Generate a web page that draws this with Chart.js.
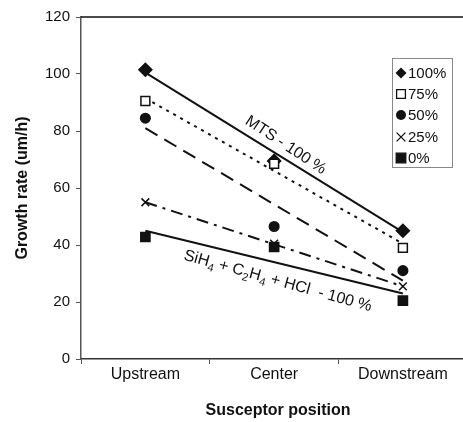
<!DOCTYPE html>
<html>
<head>
<meta charset="utf-8">
<script src="https://cdn.jsdelivr.net/npm/chart.js@4.4.1/dist/chart.umd.min.js"></script>
<style>
  html, body { margin: 0; padding: 0; background: #fff; overflow: hidden; }
  #wrap { width: 463px; height: 422px; overflow: hidden; }
  #myChart { display: block; }
</style>
</head>
<body>
<div id="wrap"><canvas id="myChart" width="483" height="422"></canvas></div>
<script>
const posiciones = ["Upstream", "Center", "Downstream"];
const series = ["100%", "75%", "50%", "25%", "0%"];

// puntos medidos
const g100 = [101.5, 69.5, 45];
const g75 = [90.5, 68.5, 39];
const g50 = [84.5, 46.5, 31];
const g25 = [55, 40.5, 25.5];
const g0 = [42.8, 39.3, 20.5];

// lineas de tendencia (valor en Upstream y en Downstream)
const t100 = [100.5, 44.5];
const t75 = [91.5, 40.5];
const t50 = [81, 27.5];
const t25 = [55, 25.5];
const t0 = [45, 23];

const yTicks = [0, 20, 40, 60, 80, 100, 120];

const FONT = "'Liberation Sans', Arial, sans-serif";

function tendencia(data, dash) {
  return {
    label: "trend",
    data: [{ x: 1, y: data[0] }, { x: 3, y: data[1] }],
    borderColor: "#111",
    borderWidth: 2,
    borderDash: dash,
    pointRadius: 0,
    fill: false,
    tension: 0,
    order: 10
  };
}

function puntos(label, data, style, radius, fillColor, ord) {
  return {
    label: label,
    data: data.map((v, i) => ({ x: i + 1, y: v })),
    showLine: false,
    pointStyle: style,
    pointRadius: radius,
    pointHoverRadius: radius,
    pointBackgroundColor: fillColor,
    pointBorderColor: "#111",
    pointBorderWidth: 1.5,
    order: ord
  };
}

function drawShape(ctx, style, r, x, y) {
  ctx.beginPath();
  if (style === "rectRot") {
    ctx.moveTo(x, y - r); ctx.lineTo(x + r, y); ctx.lineTo(x, y + r); ctx.lineTo(x - r, y); ctx.closePath();
    ctx.fill();
  } else if (style === "rect") {
    const s = r * 0.8;
    ctx.rect(x - s, y - s, 2 * s, 2 * s);
    ctx.fill();
    ctx.stroke();
  } else if (style === "circle") {
    ctx.arc(x, y, r, 0, Math.PI * 2);
    ctx.fill();
  } else if (style === "crossRot") {
    const s = r * 0.8;
    ctx.moveTo(x - s, y - s); ctx.lineTo(x + s, y + s);
    ctx.moveTo(x + s, y - s); ctx.lineTo(x - s, y + s);
    ctx.stroke();
  }
}

// leyenda dentro del area
const leyenda = {
  id: "leyenda",
  afterDraw(chart) {
    const ctx = chart.ctx;
    const x0 = 392, y0 = 58, w = 60, h = 109;
    ctx.save();
    ctx.fillStyle = "#fff";
    ctx.fillRect(x0, y0, w, h);
    ctx.strokeStyle = "#888";
    ctx.lineWidth = 1;
    ctx.strokeRect(x0 + 0.5, y0 + 0.5, w, h);
    const ys = [73, 94, 115, 137, 158];
    const estilos = ["rectRot", "rect", "circle", "crossRot", "rect"];
    const radios = [5.5, 5.5, 5, 5.5, 6];
    const rellenos = ["#111", "#fff", "#111", "#111", "#111"];
    ctx.font = "15px " + FONT;
    ctx.textBaseline = "middle";
    for (let i = 0; i < series.length; i++) {
      ctx.fillStyle = rellenos[i];
      ctx.strokeStyle = "#111";
      ctx.lineWidth = 1.3;
      drawShape(ctx, estilos[i], radios[i], x0 + 9, ys[i]);
      ctx.fillStyle = "#111";
      ctx.fillText(series[i], x0 + 16, ys[i] + 1);
    }
    ctx.restore();
  }
};

// textos sobre las lineas y marco superior
const textos = {
  id: "textos",
  afterDatasetsDraw(chart) {
    const ctx = chart.ctx;
    const xs = chart.scales.x, ys = chart.scales.y;
    const a = chart.chartArea;
    ctx.save();
    ctx.strokeStyle = "#111";
    ctx.lineWidth = 1.5;
    ctx.beginPath();
    ctx.moveTo(a.left, a.top);
    ctx.lineTo(a.right, a.top);
    ctx.stroke();

    ctx.fillStyle = "#111";
    ctx.textBaseline = "middle";
    ctx.textAlign = "center";
    ctx.font = "16px " + FONT;
    ctx.translate(xs.getPixelForValue(2.09), ys.getPixelForValue(75));
    ctx.rotate(33.5 * Math.PI / 180);
    ctx.fillText("MTS - 100 %", 0, 0);
    ctx.restore();

    ctx.save();
    ctx.fillStyle = "#111";
    ctx.textBaseline = "alphabetic";
    ctx.translate(xs.getPixelForValue(2.03), ys.getPixelForValue(27.5));
    ctx.rotate(15.5 * Math.PI / 180);
    const partes = [["SiH", 0], ["4", 1], [" + C", 0], ["2", 1], ["H", 0], ["4", 1], [" + HCl  - 100 %", 0]];
    const big = "16px " + FONT, small = "11px " + FONT;
    let total = 0;
    for (const p of partes) { ctx.font = p[1] ? small : big; total += ctx.measureText(p[0]).width; }
    let x = -total / 2;
    for (const p of partes) {
      ctx.font = p[1] ? small : big;
      ctx.fillText(p[0], x, p[1] ? 9 : 5);
      x += ctx.measureText(p[0]).width;
    }
    ctx.restore();
  }
};

const ctx = document.getElementById("myChart").getContext("2d");
const myChart = new Chart(ctx, {
  type: "line",
  data: {
    datasets: [
      tendencia(t100, []),
      tendencia(t75, [3, 5]),
      tendencia(t50, [14, 8]),
      tendencia(t25, [12, 6, 3, 6]),
      tendencia(t0, []),
      puntos(series[0], g100, "rectRot", 6.5, "#111", 5),
      puntos(series[1], g75, "rect", 6.3, "#fff", 4),
      puntos(series[2], g50, "circle", 4.8, "#111", 3),
      puntos(series[3], g25, "crossRot", 5.5, "#111", 2),
      puntos(series[4], g0, "rect", 6.5, "#111", 1)
    ]
  },
  options: {
    responsive: false,
    animation: false,
    layout: { padding: { top: 17, right: 4, left: 0, bottom: 0 } },
    plugins: {
      legend: { display: false },
      tooltip: { enabled: false }
    },
    scales: {
      x: {
        type: "linear",
        min: 0.5,
        max: 3.56,
        afterBuildTicks(scale) { scale.ticks = [0.5, 1, 1.5, 2, 2.5, 3, 3.5].map(v => ({ value: v })); },
        grid: {
          drawOnChartArea: false,
          tickLength: 5,
          color: (c) => (c.tick && c.tick.value % 1 === 0) ? "rgba(0,0,0,0)" : "#555"
        },
        border: { color: "#333", width: 1.5 },
        ticks: {
          autoSkip: false,
          maxRotation: 0,
          color: "#111",
          font: { family: FONT, size: 16 },
          padding: 1,
          callback: (v) => (v % 1 === 0 ? posiciones[v - 1] : "")
        },
        title: { display: true, text: "Susceptor position", color: "#111", font: { family: FONT, size: 16, weight: "bold" }, padding: { top: 0, bottom: 2 } },
        afterFit(scale) { scale.height = 63; }
      },
      y: {
        min: 0,
        max: 120,
        afterBuildTicks(scale) { scale.ticks = yTicks.map(v => ({ value: v })); },
        grid: { drawOnChartArea: false, tickLength: 5, color: "#555" },
        border: { color: "#555", width: 1.5 },
        ticks: { color: "#111", font: { family: FONT, size: 15 }, padding: 6 },
        title: { display: true, text: "Growth rate (um/h)", color: "#111", font: { family: FONT, size: 16, weight: "bold" }, padding: { top: 13, bottom: 0 } },
        afterFit(scale) { scale.width = 81; }
      }
    }
  },
  plugins: [textos, leyenda]
});
</script>
</body>
</html>
